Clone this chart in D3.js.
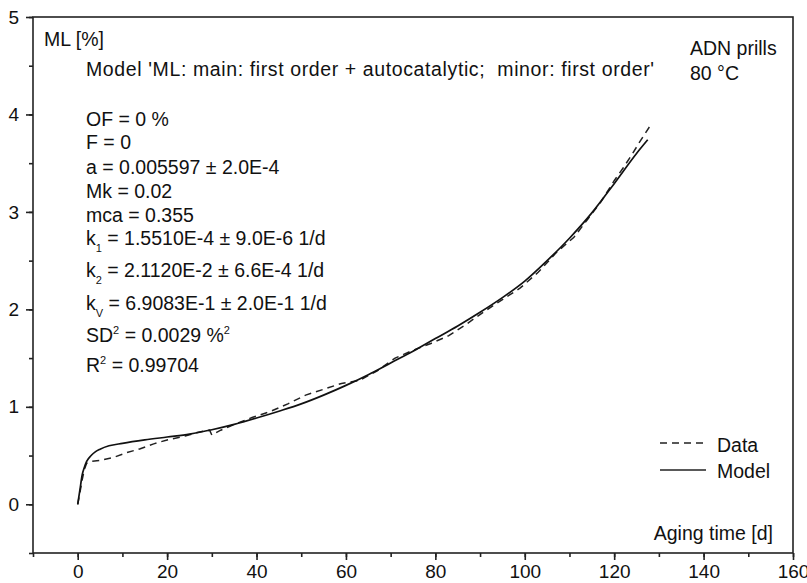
<!DOCTYPE html>
<html lang="en">
  <head>
    <meta charset="UTF-8" />
    <title>ADN prills 80 °C mass loss</title>
    <script src="https://cdnjs.cloudflare.com/ajax/libs/d3/7.8.5/d3.min.js"></script>
    <style>
      body { margin: 0; background: #fff; }
      svg text { font-family: "Liberation Sans", Arial, sans-serif; fill: #111; }
      .axis path, .axis line { stroke: #222; stroke-width: 1.6px; }
      .axis text { font-size: 19px; font-family: "Liberation Sans", Arial, sans-serif; fill: #111; }
      .lbl { font-size: 19.5px; white-space: pre; }
    </style>
  </head>
  <body>
    <svg width="807" height="583"></svg>
    <script>
      // measured mass loss (dashed)
      var dataT = [0, 0.5, 1, 1.5, 2, 3, 5, 8, 11, 14, 17, 20, 24, 27, 29.5, 30, 32, 35, 39, 43, 47, 51, 55, 59, 63, 67, 71, 75, 79, 83, 87, 91, 95, 99, 103, 107, 111, 114, 117, 120, 122, 124, 126, 128];
      var dataML = [0, 0.12, 0.25, 0.36, 0.42, 0.44, 0.45, 0.48, 0.53, 0.57, 0.62, 0.66, 0.70, 0.74, 0.76, 0.71, 0.76, 0.82, 0.89, 0.95, 1.03, 1.12, 1.18, 1.24, 1.27, 1.37, 1.50, 1.58, 1.65, 1.73, 1.85, 1.98, 2.10, 2.22, 2.38, 2.58, 2.74, 2.92, 3.10, 3.32, 3.45, 3.59, 3.74, 3.88];

      // fitted model (solid)
      var modelT = [0, 0.5, 1, 1.5, 2, 3, 4, 5, 7, 10, 15, 20, 25, 30, 35, 40, 45, 50, 55, 60, 65, 70, 75, 80, 85, 90, 95, 100, 105, 110, 115, 120, 125, 127.5];
      var modelML = [0, 0.15, 0.3, 0.38, 0.44, 0.5, 0.54, 0.565, 0.6, 0.625, 0.66, 0.69, 0.72, 0.765, 0.82, 0.885, 0.955, 1.03, 1.12, 1.22, 1.33, 1.45, 1.57, 1.70, 1.83, 1.97, 2.12, 2.29, 2.50, 2.73, 2.99, 3.29, 3.60, 3.74];

      var xTicks = [0, 20, 40, 60, 80, 100, 120, 140, 160];
      var yTicks = [0, 1, 2, 3, 4, 5];

      // parameter block: [text, sub/sup, rest, kind, trailing sup]
      var params = [
        ["OF = 0 %"],
        ["F = 0"],
        ["a = 0.005597 \u00b1 2.0E-4"],
        ["Mk = 0.02"],
        ["mca = 0.355"],
        ["k", "1", " = 1.5510E-4 \u00b1 9.0E-6 1/d", "sub"],
        ["k", "2", " = 2.1120E-2 \u00b1 6.6E-4 1/d", "sub"],
        ["k", "V", " = 6.9083E-1 \u00b1 2.0E-1 1/d", "sub"],
        ["SD", "2", " = 0.0029 %", "sup", "2"],
        ["R", "2", " = 0.99704", "sup"]
      ];
      var paramY = [126, 149, 174, 198, 222, 245, 277, 310, 342, 372];

      var svg = d3.select("svg");
      var mLeft = 33, mRight = 793, mTop = 17, mBottom = 553;

      var x = d3.scaleLinear().domain([-10, 160]).range([mLeft, mRight]);
      var y = d3.scaleLinear().domain([-0.5, 5]).range([mBottom, mTop]);

      // frame
      svg.append("rect")
        .attr("x", mLeft).attr("y", mTop)
        .attr("width", mRight - mLeft).attr("height", mBottom - mTop)
        .attr("fill", "none").attr("stroke", "#222").attr("stroke-width", 1.6);

      // minor + major ticks
      var gx = svg.append("g").attr("class", "axis")
        .attr("transform", "translate(0," + mBottom + ")");
      gx.call(d3.axisBottom(x).tickValues(d3.range(-10, 161, 10)).tickSize(4).tickFormat(""));
      gx.select(".domain").remove();
      var gx2 = svg.append("g").attr("class", "axis")
        .attr("transform", "translate(0," + mBottom + ")");
      gx2.call(d3.axisBottom(x).tickValues(xTicks).tickSize(7).tickPadding(5).tickFormat(d3.format("d")));
      gx2.select(".domain").remove();

      var gy = svg.append("g").attr("class", "axis")
        .attr("transform", "translate(" + mLeft + ",0)");
      gy.call(d3.axisLeft(y).tickValues(d3.range(-0.5, 5.01, 0.5)).tickSize(4).tickFormat(""));
      gy.select(".domain").remove();
      var gy2 = svg.append("g").attr("class", "axis")
        .attr("transform", "translate(" + mLeft + ",0)");
      gy2.call(d3.axisLeft(y).tickValues(yTicks).tickSize(7).tickPadding(7).tickFormat(d3.format("d")));
      gy2.select(".domain").remove();

      var line = d3.line().x(d => x(d[0])).y(d => y(d[1]));

      svg.append("path")
        .datum(dataT.map((t, i) => [t, dataML[i]]))
        .attr("fill", "none").attr("stroke", "#222").attr("stroke-width", 1.5)
        .attr("stroke-dasharray", "7,5")
        .attr("d", line);

      svg.append("path")
        .datum(modelT.map((t, i) => [t, modelML[i]]))
        .attr("fill", "none").attr("stroke", "#111").attr("stroke-width", 1.7)
        .attr("d", line.curve(d3.curveMonotoneX));

      // labels
      svg.append("text").attr("class", "lbl").attr("x", 44).attr("y", 46).text("ML [%]");
      svg.append("text").attr("class", "lbl").attr("x", 86).attr("y", 76)
        .attr("textLength", 568).attr("lengthAdjust", "spacing")
        .text("Model 'ML: main: first order + autocatalytic;  minor: first order'");
      svg.append("text").attr("class", "lbl").attr("x", 690).attr("y", 55).text("ADN prills");
      svg.append("text").attr("class", "lbl").attr("x", 690).attr("y", 80).text("80 \u00b0C");
      svg.append("text").attr("class", "lbl").attr("x", 773).attr("y", 540)
        .attr("text-anchor", "end").text("Aging time [d]");

      params.forEach(function (p, i) {
        var t = svg.append("text").attr("class", "lbl").attr("x", 86).attr("y", paramY[i]);
        if (p.length === 1) { t.text(p[0]); return; }
        t.append("tspan").text(p[0]);
        if (p[3] === "sub") {
          t.append("tspan").attr("dy", 7).attr("font-size", "11px").text(p[1]);
          t.append("tspan").attr("dy", -7).text(p[2]);
        } else {
          t.append("tspan").attr("dy", -8).attr("font-size", "11px").text(p[1]);
          t.append("tspan").attr("dy", 8).text(p[2]);
          if (p[4]) t.append("tspan").attr("dy", -8).attr("font-size", "11px").text(p[4]);
        }
      });

      // legend
      var legend = [["Data", "7,5", 443, 452], ["Model", null, 470, 478]];
      legend.forEach(function (l) {
        svg.append("line").attr("x1", 660).attr("x2", 706).attr("y1", l[2]).attr("y2", l[2])
          .attr("stroke", "#222").attr("stroke-width", 1.6)
          .attr("stroke-dasharray", l[1]);
        svg.append("text").attr("class", "lbl").attr("x", 717).attr("y", l[3]).text(l[0]);
      });
    </script>
  </body>
</html>
